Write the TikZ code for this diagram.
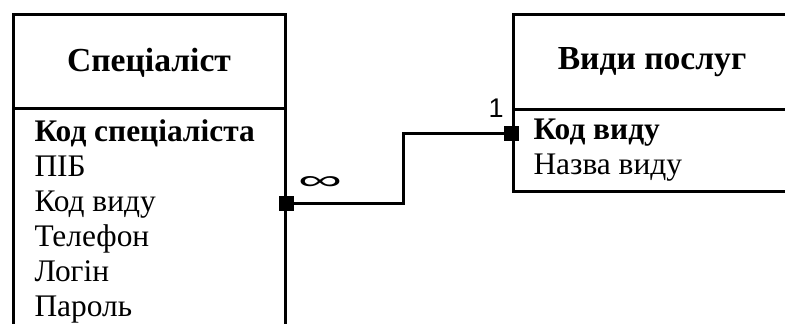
\documentclass[tikz,border=0pt]{standalone}
\usepackage{fontspec}
\setmainfont{Liberation Serif}
\newfontfamily\labelfont{Liberation Sans}
\usetikzlibrary{positioning,calc}
\newcommand{\manysign}{\resizebox{22pt}{6.5pt}{\labelfont ∞}}

\begin{document}
\begin{tikzpicture}[x=0.5pt,y=-0.5pt,line width=1.5pt,
    title/.style={font=\fontsize{16.8}{20}\selectfont\bfseries,anchor=base},
    field/.style={font=\fontsize{15.7}{17.5}\selectfont,anchor=base west,inner sep=0pt},
    keyfield/.style={field,font=\fontsize{15.7}{17.5}\selectfont\bfseries},
    keysq/.style={fill=black,draw=none,minimum size=7.5pt,inner sep=0pt}]
                \useasboundingbox (0,0) rectangle (785,324);
                \clip (0,0) rectangle (785,324);
                % Спеціаліст
                \draw (13,400) -- (13,15) -- (285,15) -- (285,400);
                \draw (13,109) -- (285,109);
                \node[title] (spec) at (149,72) {Спеціаліст};
                \node[keyfield] (spec-0) at (33,142) {Код спеціаліста};
                \foreach \t [count=\i] in {ПІБ,Код виду,Телефон,Логін,Пароль}
                    \node[field] (spec-\i) at (33,142+35*\i) {\t};
                % Види послуг
                \draw (800,15) -- (513,15) -- (513,192) -- (800,192);
                \draw (513,110) -- (800,110);
                \node[title] (vid) at (652,70) {Види послуг};
                \node[keyfield] (vid-0) at (532,140) {Код виду};
                \node[field] (vid-1) at (532,175) {Назва виду};
                % зв'язок
                \node[keysq] (fk) at (286,204) {};
                \node[keysq] (pk) at (511,133.5) {};
                \draw (fk.center) -- (403,204) |- (pk.center);
                \node (many) at (320,183.5) {\manysign};
                \node[font=\labelfont\fontsize{13.5}{15}\selectfont,anchor=base] (one) at (496,118) {1};
            \end{tikzpicture}
\end{document}
